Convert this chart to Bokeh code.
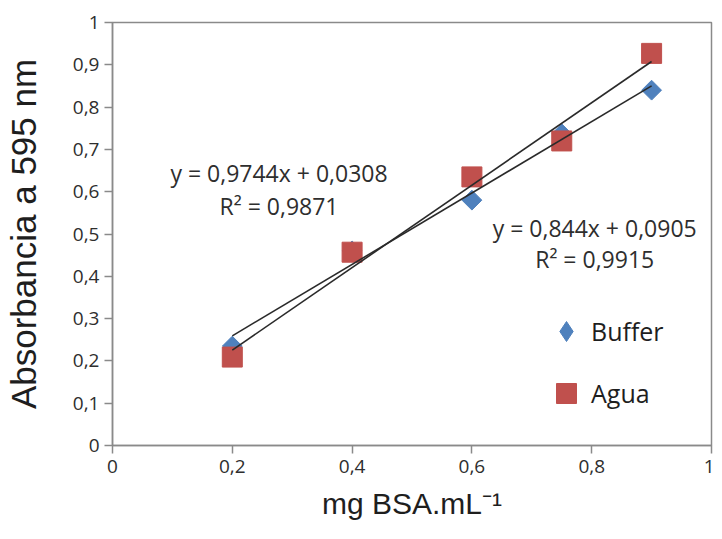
import numpy as np
from bokeh.plotting import figure
from bokeh.models import Range1d, FixedTicker, Legend, LegendItem, Label
from bokeh.embed import file_html
from bokeh.resources import INLINE

# ---- data ----
conc = [0.2, 0.4, 0.6, 0.75, 0.9]
buffer_abs = [0.235, 0.46, 0.58, 0.737, 0.84]
agua_abs = [0.209, 0.457, 0.635, 0.72, 0.927]

buffer_slope, buffer_intercept = 0.844, 0.0905
agua_slope, agua_intercept = 0.9744, 0.0308

buffer_eq = "y = 0,844x + 0,0905"
buffer_r2 = "R\u00b2 = 0,9915"
agua_eq = "y = 0,9744x + 0,0308"
agua_r2 = "R\u00b2 = 0,9871"

series_names = ["Buffer", "Agua"]

x_ticks = [0, 0.2, 0.4, 0.6, 0.8, 1]
x_tick_labels = ["0", "0,2", "0,4", "0,6", "0,8", "1"]
y_ticks = [0, 0.1, 0.2, 0.3, 0.4, 0.5, 0.6, 0.7, 0.8, 0.9, 1]
y_tick_labels = ["0", "0,1", "0,2", "0,3", "0,4", "0,5", "0,6", "0,7", "0,8", "0,9", "1"]

x_title = "mg BSA.mL\u207b\u00b9"
y_title = "Absorbancia a 595 nm"

BLUE = "#4F81BD"
RED = "#C0504D"
AXIS = "#8a8a8a"
TXT = "#2e2e2e"

p = figure(width=714, height=531,
           x_range=Range1d(0, 1), y_range=Range1d(0, 1),
           output_backend="svg", toolbar_location=None,
           min_border_left=111, min_border_right=3,
           min_border_top=22, min_border_bottom=86)
p.grid.visible = False
p.outline_line_color = AXIS
p.outline_line_width = 1.5
p.background_fill_color = "white"
p.border_fill_color = "white"

p.xaxis.ticker = FixedTicker(ticks=x_ticks)
p.xaxis.major_label_overrides = dict(zip(x_ticks, x_tick_labels))
p.yaxis.ticker = FixedTicker(ticks=y_ticks)
p.yaxis.major_label_overrides = dict(zip(y_ticks, y_tick_labels))

for ax in (p.xaxis[0], p.yaxis[0]):
    ax.axis_line_color = AXIS
    ax.axis_line_width = 1.5
    ax.major_tick_line_color = AXIS
    ax.major_tick_line_width = 1.5
    ax.major_tick_in = 0
    ax.major_tick_out = 8
    ax.minor_tick_line_color = None
    ax.major_label_text_font = "Open Sans"
    ax.major_label_text_font_size = "19px"
    ax.major_label_text_color = TXT
    ax.axis_label_text_font = "Liberation Sans"
    ax.axis_label_text_font_style = "normal"
    ax.axis_label_text_color = "#1e1e1e"

p.xaxis.major_label_standoff = 6
p.yaxis.major_label_standoff = 5
p.xaxis.axis_label = x_title
p.xaxis.axis_label_text_font_size = "30px"
p.xaxis.axis_label_standoff = 11
p.yaxis.axis_label = y_title
p.yaxis.axis_label_text_font_size = "35px"
p.yaxis.axis_label_standoff = 27

# ---- series ----
r_buf = p.scatter(conc, buffer_abs, marker="square", size=14, angle=np.pi / 4,
                  fill_color=BLUE, line_color=BLUE)
r_agua = p.scatter(conc, agua_abs, marker="square", size=20,
                   fill_color=RED, line_color=RED)
# legend key for Buffer (legend keys are never rotated, so use a diamond key)
r_buf_key = p.scatter(conc, buffer_abs, marker="diamond", size=20,
                      fill_color=BLUE, line_color=BLUE, visible=False)

# ---- linear trendlines over the data range ----
tx = np.array([min(conc), max(conc)])
p.line(tx, agua_slope * tx + agua_intercept, line_color="#2a2a2a", line_width=1.6)
p.line(tx, buffer_slope * tx + buffer_intercept, line_color="#2a2a2a", line_width=1.6)

# ---- equation labels ----
eq_font = "Open Sans"
eq_size = "23px"
for (xx, yy, t) in [(0.278, 0.644, agua_eq), (0.278, 0.566, agua_r2),
                    (0.805, 0.514, buffer_eq), (0.805, 0.442, buffer_r2)]:
    p.add_layout(Label(x=xx, y=yy, text=t, text_align="center",
                       text_baseline="alphabetic", text_font=eq_font,
                       text_font_size=eq_size, text_color=TXT))

# ---- legend ----
legend = Legend(items=[LegendItem(label=series_names[0], renderers=[r_buf_key]),
                       LegendItem(label=series_names[1], renderers=[r_agua])],
                location=(429, 27), glyph_width=50, glyph_height=50,
                spacing=12, label_standoff=0, padding=0, margin=0,
                border_line_color=None, background_fill_alpha=0,
                inactive_fill_alpha=0,
                label_text_font="Open Sans", label_text_font_size="25px",
                label_text_color="#1e1e1e")
p.add_layout(legend)

open("out.html", "w").write(file_html(p, INLINE))
